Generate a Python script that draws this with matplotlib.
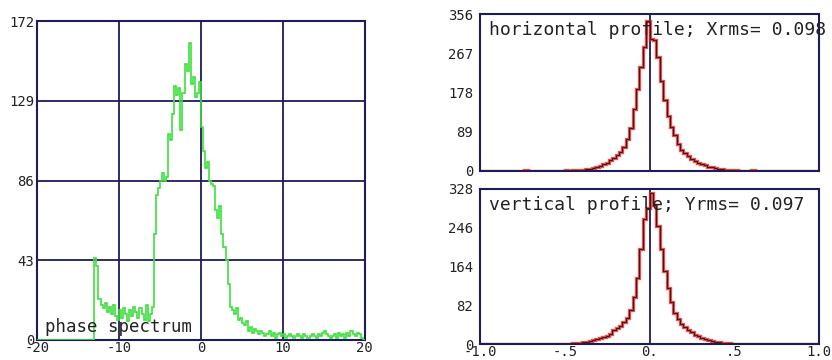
import numpy as np
import matplotlib.pyplot as plt

# phase spectrum, bins of 0.25 from -20 to 20
phase_counts = [
    0, 0, 0, 0, 0, 0, 0, 0, 0, 0, 0, 0, 0, 0, 0, 0,
    0, 0, 0, 0, 0, 0, 0, 0, 0, 0, 0, 0, 44, 40, 22, 19,
    17, 20, 15, 18, 14, 19, 13, 11, 16, 12, 17, 14, 10, 16, 13, 18,
    15, 12, 17, 14, 11, 19, 10, 14, 18, 57, 78, 82, 86, 90, 86, 88,
    111, 108, 122, 137, 132, 136, 113, 133, 149, 145, 160, 138, 142, 131, 133, 139,
    115, 102, 93, 96, 86, 84, 83, 70, 66, 72, 57, 50, 43, 30, 18, 16,
    14, 17, 11, 12, 9, 8, 10, 5, 7, 4, 6, 5, 3, 5, 4, 2,
    3, 5, 2, 4, 1, 3, 4, 2, 3, 1, 2, 3, 2, 1, 2, 3,
    2, 1, 3, 2, 1, 2, 3, 2, 1, 3, 2, 4, 5, 3, 2, 1,
    2, 3, 1, 4, 2, 3, 1, 4, 2, 5, 3, 2, 4, 3, 1, 0,
]
phase_xticks = [-20, -10, 0, 10, 20]
phase_yticks = [0, 43, 86, 129, 172]

# profiles, bins of 0.02 from -1 to 1
hor_counts = [
    0, 0, 0, 0, 0, 0, 0, 0, 0, 0, 0, 0, 0, 2, 0, 0, 0, 0, 0, 0, 0, 0, 0, 1, 1,
    2, 1, 2, 3, 2, 3, 4, 5, 6, 8,
    12, 15, 19, 24, 30, 37, 42, 54, 72, 98,
    140, 185, 235, 282, 340, 300, 296, 258, 205, 160,
    125, 100, 82, 62, 48, 40, 33, 27, 22, 18,
    15, 13, 10, 8, 6, 5, 4, 3, 3, 2,
    2, 1, 1, 0, 0, 2, 0, 0, 0, 0, 0, 1, 0, 0, 0, 0, 0, 0, 0, 0, 0, 0, 0, 0, 0,
]
ver_counts = [
    0, 0, 0, 0, 0, 0, 0, 0, 0, 0, 0, 0, 0, 0, 0, 0, 0, 0, 0, 0, 0, 0, 0, 0, 1,
    1, 1, 2, 2, 3, 4, 5, 6, 8, 10,
    13, 15, 18, 22, 29, 34, 38, 46, 56, 72,
    100, 140, 200, 265, 288, 320, 295, 250, 200, 155,
    118, 88, 66, 52, 43, 36, 30, 25, 20, 16,
    13, 11, 8, 6, 5, 4, 3, 2, 2, 1,
    1, 1, 0, 0, 0, 0, 0, 0, 0, 0, 0, 0, 0, 0, 0, 0, 0, 0, 0, 0, 0, 0, 0, 0, 0,
]
prof_xticks = [-1.0, -0.5, 0.0, 0.5, 1.0]
prof_xlabels = ['-1.0', '-.5', '0.', '.5', '1.0']
hor_yticks = [0, 89, 178, 267, 356]
ver_yticks = [0, 82, 164, 246, 328]

navy = '#1c1c5a'
mono = 'DejaVu Sans Mono'

fig = plt.figure(figsize=(8.32, 3.6), dpi=100)

def frame(ax, ypad):
    for s in ax.spines.values():
        s.set_color(navy)
        s.set_linewidth(1.5)
    ax.tick_params(length=0, labelsize=10, colors='#222222')
    ax.tick_params(axis='y', pad=ypad)
    ax.tick_params(axis='x', pad=1)
    for lab in ax.get_xticklabels() + ax.get_yticklabels():
        lab.set_family(mono)

# left panel
ax = fig.add_axes([0.0445, 0.0556, 0.394, 0.886])
edges = np.linspace(-20, 20, len(phase_counts) + 1)
ax.stairs(phase_counts, edges, color='#3de03d', lw=1.2, zorder=3)
for x in phase_xticks[1:-1]:
    ax.axvline(x, color=navy, lw=1.3, zorder=1)
for y in phase_yticks[1:-1]:
    ax.axhline(y, color=navy, lw=1.3, zorder=1)
ax.set_xlim(-20, 20)
ax.set_ylim(0, 172)
ax.set_xticks(phase_xticks, [str(v) for v in phase_xticks])
ax.set_yticks(phase_yticks, [str(v) for v in phase_yticks])
frame(ax, 2)
ax.text(0.025, 0.04, 'phase spectrum', transform=ax.transAxes, family=mono,
        fontsize=12.5, color='#222222', va='center', ha='left', zorder=4)

# right panels
def profile(rect, counts, yticks, label):
    ax = fig.add_axes(rect)
    e = np.linspace(-1, 1, len(counts) + 1)
    ax.axvline(0, color=navy, lw=1.3, zorder=1)
    ax.stairs(counts, e, color='#e02828', lw=2.4, alpha=0.8, zorder=2)
    ax.stairs(counts, e, color='#4a1515', lw=0.8, zorder=3)
    ax.set_xlim(-1, 1)
    ax.set_ylim(0, yticks[-1])
    ax.set_xticks(prof_xticks, prof_xlabels)
    ax.set_yticks(yticks, [str(v) for v in yticks])
    frame(ax, 5)
    ax.text(0.025, 0.9, label, transform=ax.transAxes, family=mono,
            fontsize=13, color='#222222', va='center', ha='left',
            clip_on=False, zorder=4)
    return ax

ax1 = profile([0.577, 0.525, 0.4075, 0.436], hor_counts, hor_yticks,
              'horizontal profile; Xrms= 0.098')
ax1.set_xticklabels([])
profile([0.577, 0.0444, 0.4075, 0.4306], ver_counts, ver_yticks,
        'vertical profile; Yrms= 0.097')

fig.savefig('out.png', dpi=100, facecolor='white')
